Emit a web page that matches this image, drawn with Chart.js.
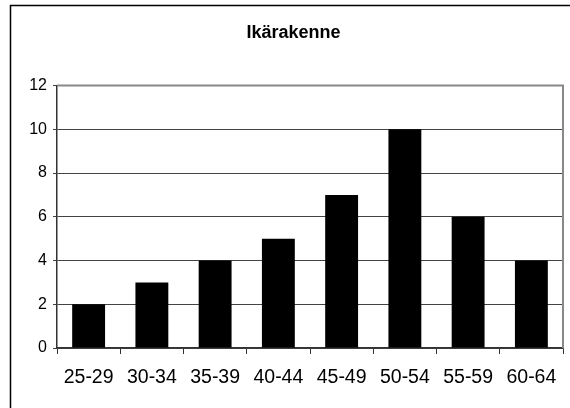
<!DOCTYPE html>
<html>
<head>
<meta charset="utf-8">
<script src="https://cdn.jsdelivr.net/npm/chart.js@4.4.1/dist/chart.umd.min.js"></script>
<style>
  html, body { margin: 0; padding: 0; background: #fff; }
  #wrap { width: 570px; height: 408px; }
</style>
</head>
<body>
<div id="wrap"><canvas id="canvas" width="570" height="408"></canvas></div>
<script>
const ageGroups = ['25-29', '30-34', '35-39', '40-44', '45-49', '50-54', '55-59', '60-64']
const counts = [2, 3, 4, 5, 7, 10, 6, 4]
const yTicks = [0, 2, 4, 6, 8, 10, 12]

// outer frame + grey top/right edges of the plot area
const framePlugin = {
  id: 'frame',
  afterDraw(chart) {
    const ctx = chart.ctx
    const a = chart.chartArea
    ctx.save()
    ctx.strokeStyle = '#000'
    ctx.lineWidth = 1.5
    ctx.strokeRect(10.5, 5.5, 700, 600)
    ctx.strokeStyle = '#888'
    ctx.lineWidth = 2
    ctx.beginPath()
    ctx.moveTo(a.left, a.top)
    ctx.lineTo(a.right, a.top)
    ctx.lineTo(a.right, a.bottom)
    ctx.stroke()
    ctx.restore()
  }
}

const canvas = document.getElementById('canvas')
const chart = new Chart(canvas, {
  type: 'bar',
  data: {
    labels: ageGroups,
    datasets: [{
      data: counts,
      backgroundColor: '#000',
      borderWidth: 0,
      barPercentage: 0.52,
      categoryPercentage: 1
    }]
  },
  options: {
    responsive: false,
    animation: false,
    layout: { padding: { left: 24, right: 7, top: 0, bottom: 0 } },
    plugins: {
      legend: { display: false },
      tooltip: { enabled: false },
      title: {
        display: true,
        text: 'Ikärakenne',
        color: '#000',
        font: { family: 'Liberation Sans', size: 18, weight: 'bold' },
        padding: { top: 22, bottom: 42 }
      }
    },
    scales: {
      x: {
        grid: {
          offset: true,
          drawOnChartArea: false,
          drawTicks: true,
          tickLength: 6,
          color: '#333'
        },
        border: { color: '#333', width: 1.5 },
        ticks: {
          color: '#000',
          font: { family: 'Liberation Sans', size: 19.5 },
          padding: 12,
          maxRotation: 0,
          autoSkip: false
        },
        afterFit(scale) { scale.height = 60 }
      },
      y: {
        min: 0,
        max: 12,
        afterBuildTicks(scale) { scale.ticks = yTicks.map(v => ({ value: v })) },
        grid: {
          color: '#444',
          lineWidth: 1,
          tickLength: 4
        },
        border: { color: '#333', width: 1.5 },
        ticks: {
          color: '#000',
          font: { family: 'Liberation Sans', size: 16 },
          padding: 6
        },
        afterFit(scale) { scale.width = 33 }
      }
    }
  },
  plugins: [framePlugin]
})
</script>
</body>
</html>
